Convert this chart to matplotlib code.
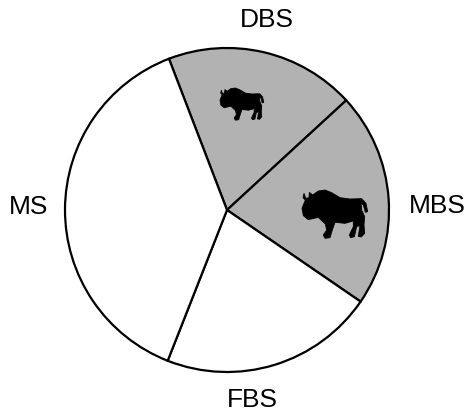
from matplotlib import pyplot as plt
from matplotlib.patches import Polygon

plt.rcParams['font.family'] = ['Liberation Sans', 'DejaVu Sans']

categories = ["DBS", "MBS", "FBS", "MS"]
shares = [19, 21.4, 21.4, 38.2]
slice_colors = ["#b2b2b2", "#b2b2b2", "white", "white"]

# silhouette, y pointing down
bison = [(42, 55), (47, 70), (57, 68), (58, 52), (68, 60), (85, 48), (105, 45), (125, 53),
         (150, 68), (180, 72), (215, 71), (228, 85), (233, 110), (226, 112), (220, 90),
         (213, 85), (215, 105), (224, 125), (222, 150), (224, 175), (214, 186), (205, 184),
         (210, 152), (200, 155), (193, 185), (182, 188), (178, 180), (190, 155), (190, 138),
         (165, 145), (135, 142), (127, 165), (120, 188), (105, 190), (100, 180), (110, 165),
         (106, 147), (85, 127), (55, 134), (40, 122), (36, 100), (46, 75), (39, 68)]

W, H = 465, 412
fig = plt.figure(figsize=(W / 100, H / 100), dpi=100)
ax = fig.add_axes([0, 0, 1, 1])

ax.pie(shares, colors=slice_colors, center=(227, H - 210), radius=162, startangle=111,
       counterclock=False, frame=True, wedgeprops=dict(edgecolor="black", linewidth=1.6))
ax.set_xlim(0, W)
ax.set_ylim(0, H)
ax.axis("off")


def add_bison(left, top, scale):
    pts = [(left + x * scale, H - (top + y * scale)) for x, y in bison]
    ax.add_patch(Polygon(pts, closed=True, facecolor="black", edgecolor="black",
                         linewidth=0.6, zorder=5))


add_bison(290, 175, 1 / 3)
add_bison(212, 78, 0.222)

label_pos = [(267, 20), (437, 206), (252, 400), (29, 207)]
for name, (px, py) in zip(categories, label_pos):
    ax.text(px, H - py, name, fontsize=19, ha="center", va="center")

fig.savefig("out.png", dpi=100)
